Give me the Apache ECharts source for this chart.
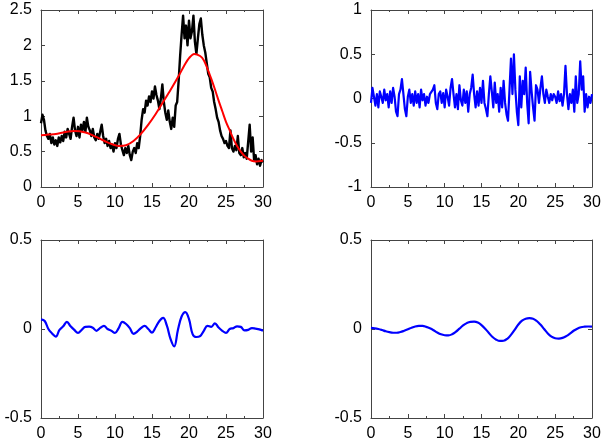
<!DOCTYPE html>
<html>
<head>
<meta charset="utf-8">
<script src="https://cdn.jsdelivr.net/npm/echarts@6/dist/echarts.min.js"></script>
<style>html,body{margin:0;padding:0;background:#fff}#c{width:607px;height:445px}</style>
</head>
<body>
<div id="c"></div>
<script>
// x sampling steps
const stepNoisy = 0.2;
const stepSmooth = 0.5;
const xTicks = ['0','5','10','15','20','25','30'];

// top-left: raw signal (black)
const rawSignal = [
 0.90,1.02,0.95,0.80,0.72, 0.68,0.75,0.62,0.70,0.60, 0.66,0.58,0.70,0.63,0.72, 0.65,0.78,0.70,0.82,0.75,
 0.68,0.85,0.98,0.80,0.72, 0.85,0.70,0.88,0.80,0.92, 0.78,0.98,0.85,0.80,0.72, 0.82,0.70,0.66,0.75,0.68,
 0.78,0.88,0.72,0.62,0.68, 0.58,0.65,0.55,0.60,0.50, 0.62,0.55,0.68,0.75,0.60, 0.52,0.45,0.55,0.48,0.58,
 0.45,0.38,0.50,0.55,0.48, 0.62,0.55,0.72,0.95,1.10, 1.05,1.22,1.15,1.28,1.20, 1.35,1.25,1.42,1.30,1.22,
 1.10,1.25,1.45,1.20,1.05, 0.95,1.08,0.92,0.82,0.98, 0.85,1.15,1.20,1.50,1.85, 2.15,2.42,2.10,2.28,2.00,
 2.35,2.10,2.20,2.42,2.05, 1.88,2.10,2.30,2.38,2.15, 2.00,1.90,1.75,1.60,1.55, 1.40,1.35,1.20,1.10,0.98,
 0.92,0.80,0.72,0.68,0.62, 0.65,0.58,0.55,0.80,0.55, 0.50,0.58,0.52,0.72,0.48, 0.45,0.55,0.42,0.48,0.40,
 0.42,0.88,0.50,0.70,0.38, 0.45,0.32,0.40,0.30,0.38, 0.35
];
// top-left: smooth trend (red), x values + y values
const trendX = [0,1,2,3,4.5,6,7,8,9,10.5,11.5,12.5,13.5,14.5,15.5,16.5,17.5,18.5,19.5,20,20.7,21.5,22,22.5,23,23.5,24,24.5,25,25.5,26,26.5,27,27.5,28,28.5,29,30];
const trendY = [0.73,0.74,0.75,0.77,0.79,0.77,0.73,0.68,0.63,0.58,0.59,0.65,0.75,0.88,1.03,1.20,1.37,1.55,1.74,1.82,1.88,1.85,1.79,1.67,1.53,1.38,1.22,1.07,0.92,0.80,0.68,0.58,0.50,0.44,0.40,0.37,0.36,0.37];

// top-right: detail (blue, noisy)
const detailNoisy = [
 -0.05,0.12,0.02,-0.08,0.05, -0.10,0.08,0.02,-0.05,0.10, -0.02,0.05,-0.10,0.08,-0.05, 0.12,0.02,-0.15,-0.20,0.05,
 0.10,0.22,0.05,-0.12,-0.20, 0.02,0.10,-0.05,0.05,-0.08, 0.08,-0.05,0.05,-0.10,0.10, -0.02,0.05,-0.08,0.02,-0.05,
 0.05,0.03,0.10,0.15,-0.05, -0.12,0.05,0.08,-0.05,0.06, -0.10,0.10,0.02,-0.08,0.12, 0.22,0.05,-0.10,0.05,-0.12,
 0.15,-0.02,-0.08,0.10,-0.05, 0.08,-0.15,0.05,0.12,0.27, 0.05,-0.10,0.08,-0.08,0.12, -0.05,0.20,-0.05,-0.12,-0.20,
 0.05,0.25,0.08,-0.10,0.18, -0.05,0.05,-0.15,0.12,-0.10, 0.20,-0.05,-0.18,-0.25,0.10, 0.45,0.05,0.50,0.10,-0.15,
 -0.30,0.25,-0.10,0.20,0.05, 0.35,-0.05,-0.28,0.30,0.08, -0.10,-0.25,0.15,0.10,-0.05, 0.12,0.25,0.05,-0.05,0.10,
 0.02,-0.05,0.05,-0.02,0.05, 0.02,-0.05,0.08,-0.03,0.05, -0.08,0.05,0.37,0.05,-0.12, 0.05,-0.05,0.10,-0.15,0.25,
 -0.05,0.05,0.42,0.10,0.25, -0.15,0.05,-0.10,0.02,-0.05, 0.05
];

// bottom-left: mid-scale component (blue)
const midComponent = [
 0.054,0.045,0.000,-0.025,-0.043,-0.005,0.015,0.040,0.015,-0.005,
 -0.022,-0.005,0.012,0.013,0.007,-0.010,0.006,0.018,0.000,-0.010,
 -0.022,0.005,0.040,0.028,0.005,-0.027,-0.015,0.005,0.018,0.000,
 -0.020,0.010,0.045,0.062,0.020,-0.055,-0.098,-0.005,0.070,0.095,
 0.055,-0.030,-0.045,-0.040,-0.010,0.018,0.012,0.032,0.008,-0.010,
 -0.022,0.000,0.005,0.015,0.012,-0.008,-0.005,0.005,0.002,-0.002,
 -0.010
];

// bottom-right: coarse component (blue)
const coarseComponent = [
 0.006,0.004,0.000,-0.006,-0.013,-0.018,-0.021,-0.021,-0.017,-0.010,
 -0.002,0.007,0.014,0.017,0.017,0.012,0.004,-0.007,-0.020,-0.030,
 -0.035,-0.036,-0.030,-0.016,0.002,0.020,0.033,0.040,0.041,0.036,
 0.022,0.002,-0.022,-0.045,-0.060,-0.067,-0.066,-0.055,-0.033,-0.005,
 0.025,0.047,0.058,0.061,0.058,0.045,0.025,0.000,-0.025,-0.043,
 -0.052,-0.054,-0.050,-0.040,-0.026,-0.010,0.002,0.010,0.013,0.014,
 0.013
];

const FONT = 'Liberation Sans';
const AX = '#444';
const pair = (arr, step) => arr.map((v, i) => [+(i * step).toFixed(3), v]);

const grids = [
  {left: 41, top: 10, right: 344, bottom: 258, ymin: 0, ymax: 2.5, yint: 0.5},
  {left: 371, top: 10, right: 15, bottom: 258, ymin: -1, ymax: 1, yint: 0.5},
  {left: 41, top: 240, right: 344, bottom: 27, ymin: -0.5, ymax: 0.5, yint: 0.5},
  {left: 371, top: 240, right: 15, bottom: 27, ymin: -0.5, ymax: 0.5, yint: 0.5}
];

const grid = [], xAxis = [], yAxis = [];
grids.forEach((g, i) => {
  grid.push({left: g.left, top: g.top, right: g.right, bottom: g.bottom, containLabel: false});
  const xBase = {
    type: 'value', gridIndex: i, min: 0, max: 30, interval: 5,
    axisLine: {show: true, onZero: false, lineStyle: {color: AX, width: 1}},
    axisTick: {show: true, inside: true, length: 4, lineStyle: {color: AX}},
    minorTick: {show: true, splitNumber: 2, length: 2, lineStyle: {color: AX}},
    splitLine: {show: false}
  };
  xAxis.push(Object.assign({}, xBase, {
    position: 'bottom',
    axisLabel: {show: true, color: '#000', fontFamily: FONT, fontSize: 16, margin: 8,
      formatter: v => xTicks[Math.round(v / 5)] ?? String(v)}
  }));
  xAxis.push(Object.assign({}, xBase, {position: 'top', axisLabel: {show: false}}));
  const yBase = {
    type: 'value', gridIndex: i, min: g.ymin, max: g.ymax, interval: g.yint,
    axisLine: {show: true, onZero: false, lineStyle: {color: AX, width: 1}},
    axisTick: {show: true, inside: true, length: 4, lineStyle: {color: AX}},
    splitLine: {show: false}
  };
  yAxis.push(Object.assign({}, yBase, {
    position: 'left',
    axisLabel: {show: true, color: '#000', fontFamily: FONT, fontSize: 16, margin: 9,
      formatter: v => String(+v.toFixed(2))}
  }));
  yAxis.push(Object.assign({}, yBase, {position: 'right', axisLabel: {show: false}}));
});

const line = (gi, data, color, width, smooth, z) => ({
  type: 'line', xAxisIndex: gi * 2, yAxisIndex: gi * 2, data: data,
  showSymbol: false, symbol: 'none', smooth: smooth || false, animation: false,
  lineStyle: {color: color, width: width, join: 'round'}, z: z || 3
});

const option = {
  animation: false,
  backgroundColor: '#fff',
  grid, xAxis, yAxis,
  series: [
    line(0, pair(rawSignal, stepNoisy), '#000000', 2.4),
    line(0, trendX.map((x, i) => [x, trendY[i]]), '#ff0000', 2, 0.3, 4),
    line(1, pair(detailNoisy, stepNoisy), '#0000ff', 2.2),
    line(2, pair(midComponent, stepSmooth), '#0000ff', 2.2, 0.4),
    line(3, pair(coarseComponent, stepSmooth), '#0000ff', 2.2, 0.4)
  ]
};
const chart = echarts.init(document.getElementById('c'), null, {renderer: 'canvas'});
chart.setOption(option);
</script>
</body>
</html>
